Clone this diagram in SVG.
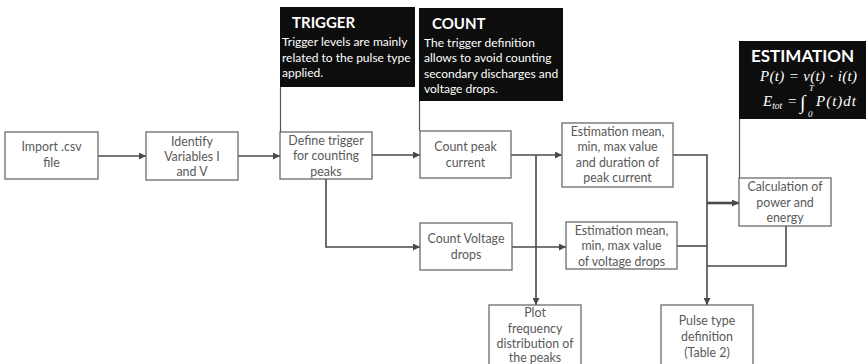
<svg xmlns="http://www.w3.org/2000/svg" width="868" height="364" viewBox="0 0 868 364">
<style>
.box{fill:#fff;stroke:#6b6b6b;stroke-width:1.3}
.t{font-family:Lato,"Liberation Sans",sans-serif;font-size:12.4px;fill:#595959;text-anchor:middle}
.blk{fill:#0d0d0d}
.h{font-family:Lato,"Open Sans",sans-serif;font-weight:bold;fill:#fff}
.d{font-family:Lato,"Open Sans",sans-serif;font-size:12px;fill:#fff}
.m{font-family:"Liberation Serif",serif;font-style:italic;fill:#fff}
.c{fill:none;stroke:#4a4a4a;stroke-width:1.6}
.cl{fill:none;stroke:#555;stroke-width:1.2}
</style>
<defs>
<marker id="a" viewBox="0 0 10 10" refX="10" refY="5" markerWidth="7" markerHeight="7" markerUnits="userSpaceOnUse" orient="auto">
<path d="M0,0 L10,5 L0,10 z" fill="#4a4a4a"/>
</marker>
</defs>
<rect width="868" height="364" fill="#fff"/>

<g id="connectors">
<line class="c" x1="98" y1="156" x2="146" y2="156" marker-end="url(#a)"/>
<line class="c" x1="238" y1="156" x2="280" y2="156" marker-end="url(#a)"/>
<line class="c" x1="372" y1="155" x2="420" y2="155" marker-end="url(#a)"/>
<line class="c" x1="511" y1="155" x2="562" y2="155" marker-end="url(#a)"/>
<polyline class="c" points="536,155 536,305" marker-end="url(#a)"/>
<polyline class="c" points="326,179 326,247 420,247" marker-end="url(#a)"/>
<line class="c" x1="512" y1="247" x2="566" y2="247" marker-end="url(#a)"/>
<polyline class="c" points="673,155 707,155 707,305" marker-end="url(#a)"/>
<line class="c" x1="677" y1="246" x2="707" y2="246"/>
<line x1="707" y1="203" x2="739" y2="203" stroke="#4a4a4a" stroke-width="2.6" marker-end="url(#a)"/>
<polyline class="c" points="786,226 786,266 707,266"/>
<line class="cl" x1="280.5" y1="87" x2="280.5" y2="132"/>
<line class="cl" x1="419.5" y1="101" x2="419.5" y2="131"/>
<line class="cl" x1="739.5" y1="119" x2="739.5" y2="178"/>
</g>

<g id="import">
<rect class="box" x="5" y="132" width="93" height="47"/>
<text class="t" x="51.5" y="151">Import .csv</text>
<text class="t" x="51.5" y="167">file</text>
</g>
<g id="identify">
<rect class="box" x="146" y="132" width="92" height="48"/>
<text class="t" x="192" y="146">Identify</text>
<text class="t" x="192" y="161">Variables I</text>
<text class="t" x="192" y="176">and V</text>
</g>
<g id="define">
<rect class="box" x="280" y="132" width="92" height="47"/>
<text class="t" x="326" y="145">Define trigger</text>
<text class="t" x="326" y="160">for counting</text>
<text class="t" x="326" y="176">peaks</text>
</g>
<g id="countpeak">
<rect class="box" x="420" y="131" width="91" height="47"/>
<text class="t" x="465.5" y="151">Count peak</text>
<text class="t" x="465.5" y="167">current</text>
</g>
<g id="countvoltage">
<rect class="box" x="420" y="223" width="92" height="47"/>
<text class="t" x="466" y="243">Count Voltage</text>
<text class="t" x="466" y="259">drops</text>
</g>
<g id="estpeak">
<rect class="box" x="562" y="123" width="111" height="64"/>
<text class="t" x="617.5" y="136">Estimation mean,</text>
<text class="t" x="617.5" y="151">min, max value</text>
<text class="t" x="617.5" y="167">and duration of</text>
<text class="t" x="617.5" y="182">peak current</text>
</g>
<g id="estvoltage">
<rect class="box" x="566" y="222" width="111" height="47"/>
<text class="t" x="621.5" y="235">Estimation mean,</text>
<text class="t" x="621.5" y="250">min, max value</text>
<text class="t" x="621.5" y="266">of voltage drops</text>
</g>
<g id="calc">
<rect class="box" x="739" y="178" width="92" height="48"/>
<text class="t" x="785" y="191">Calculation of</text>
<text class="t" x="785" y="207">power and</text>
<text class="t" x="785" y="222">energy</text>
</g>
<g id="plot">
<rect class="box" x="489" y="305" width="92" height="64"/>
<text class="t" x="535" y="317">Plot</text>
<text class="t" x="535" y="333">frequency</text>
<text class="t" x="535" y="348">distribution of</text>
<text class="t" x="535" y="362">the peaks</text>
</g>
<g id="pulse">
<rect class="box" x="661" y="305" width="92" height="64"/>
<text class="t" x="707" y="325">Pulse type</text>
<text class="t" x="707" y="341">definition</text>
<text class="t" x="707" y="357">(Table 2)</text>
</g>

<g id="trigger">
<rect class="blk" x="280" y="7" width="135" height="80"/>
<text class="h" x="292" y="28" font-size="15">TRIGGER</text>
<text class="d" x="282" y="46">Trigger levels are mainly</text>
<text class="d" x="282" y="62">related to the pulse type</text>
<text class="d" x="282" y="77">applied.</text>
</g>
<g id="count">
<rect class="blk" x="419" y="8" width="144" height="93"/>
<text class="h" x="432" y="29" font-size="15">COUNT</text>
<text class="d" x="424" y="47">The trigger definition</text>
<text class="d" x="424" y="62">allows to avoid counting</text>
<text class="d" x="424" y="78">secondary discharges and</text>
<text class="d" x="424" y="93">voltage drops.</text>
</g>
<g id="estimation">
<rect class="blk" x="739" y="41" width="127" height="78"/>
<text class="h" x="751" y="62" font-size="17">ESTIMATION</text>
<text class="m" x="760" y="81" font-size="15" textLength="97" lengthAdjust="spacing">P(t) = v(t) · i(t)</text>
<text class="m" x="763" y="106" font-size="15">E<tspan font-size="9.5" dy="3">tot</tspan><tspan dy="-3" font-style="normal" x="788">=</tspan></text>
<text class="m" x="800" y="109" font-size="20" font-style="normal">∫</text>
<text class="m" x="809" y="91" font-size="9">T</text>
<text class="m" x="808" y="117" font-size="9" font-style="normal">0</text>
<text class="m" x="816" y="106" font-size="15" textLength="40" lengthAdjust="spacing">P(t)dt</text>
</g>
</svg>
